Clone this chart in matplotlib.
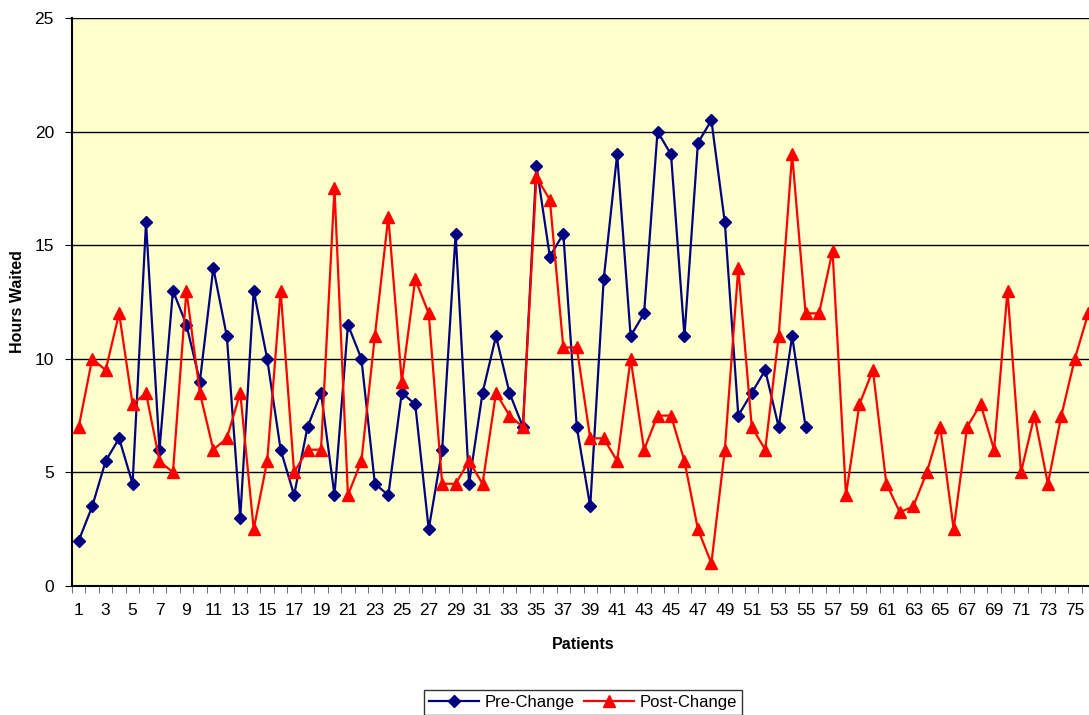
import matplotlib
matplotlib.use("Agg")
import matplotlib.pyplot as plt
import numpy as np

plt.rcParams['font.family'] = ['Liberation Sans', 'DejaVu Sans']

pre_change = [2, 3.5, 5.5, 6.5, 4.5, 16, 6, 13, 11.5, 9,
              14, 11, 3, 13, 10, 6, 4, 7, 8.5, 4,
              11.5, 10, 4.5, 4, 8.5, 8, 2.5, 6, 15.5, 4.5,
              8.5, 11, 8.5, 7, 18.5, 14.5, 15.5, 7, 3.5, 13.5,
              19, 11, 12, 20, 19, 11, 19.5, 20.5, 16, 7.5,
              8.5, 9.5, 7, 11, 7]

post_change = [7, 10, 9.5, 12, 8, 8.5, 5.5, 5, 13, 8.5,
               6, 6.5, 8.5, 2.5, 5.5, 13, 5, 6, 6, 17.5,
               4, 5.5, 11, 16.25, 9, 13.5, 12, 4.5, 4.5, 5.5,
               4.5, 8.5, 7.5, 7, 18, 17, 10.5, 10.5, 6.5, 6.5,
               5.5, 10, 6, 7.5, 7.5, 5.5, 2.5, 1, 6, 14,
               7, 6, 11, 19, 12, 12, 14.75, 4, 8, 9.5,
               4.5, 3.25, 3.5, 5, 7, 2.5, 7, 8, 6, 13,
               5, 7.5, 4.5, 7.5, 10, 12]

n_patients = 76
patients = np.arange(1, n_patients + 1)
y_ticks = [0, 5, 10, 15, 20, 25]

fig = plt.figure(figsize=(10.89, 7.15), dpi=100)
ax = fig.add_axes([72 / 1089, 129 / 715, 1023 / 1089, 568 / 715])
ax.set_facecolor('#FFFFCC')

for y in y_ticks[1:]:
    ax.axhline(y, color='black', lw=1, zorder=1)

ax.plot(patients[:len(pre_change)], pre_change, color='#000080', lw=1.6,
        marker='D', markersize=6.5, label='Pre-Change', zorder=3)
ax.plot(patients[:len(post_change)], post_change, color='#FF0000', lw=1.6,
        marker='^', markersize=8, label='Post-Change', zorder=3)

ax.set_xlim(0.5, n_patients + 0.5)
ax.set_ylim(0, 25)
ax.set_yticks(y_ticks)
ax.set_xticks(patients[::2])
ax.set_xticks(np.arange(0.5, n_patients + 1, 1), minor=True)
ax.tick_params(axis='x', which='major', length=0, pad=12, labelsize=12.5)
ax.tick_params(axis='x', which='minor', length=5, color='#555555')
ax.tick_params(axis='y', length=5, labelsize=12.5, pad=8)

for side in ['top', 'right']:
    ax.spines[side].set_visible(False)
ax.spines['left'].set_linewidth(1.5)
ax.spines['bottom'].set_linewidth(1.5)

ax.set_ylabel('Hours Waited', fontsize=11.5, fontweight='bold')
ax.yaxis.set_label_coords(-0.046, 0.5)
ax.set_xlabel('Patients', fontsize=11.5, fontweight='bold')
ax.xaxis.set_label_coords(511 / 1023, -51 / 568)

leg = fig.legend(loc='lower center', bbox_to_anchor=(583 / 1089, -0.012), ncol=2,
                 frameon=True, fancybox=False, edgecolor='black', fontsize=12,
                 handlelength=3, columnspacing=0.6, handletextpad=0.3,
                 borderpad=0.3)
leg.get_frame().set_linewidth(1)

fig.savefig('out.png', dpi=100)
